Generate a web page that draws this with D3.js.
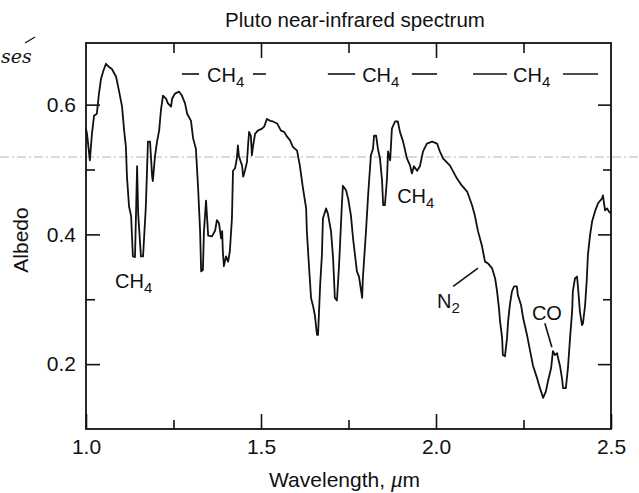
<!DOCTYPE html>
<html>
<head>
<meta charset="utf-8">
<script src="https://cdn.jsdelivr.net/npm/d3@7"></script>
<style>
  body { margin: 0; background: #fff; }
  text { font-family: 'Liberation Sans', Arial, Helvetica, sans-serif; fill: #111; }
  .tick line { stroke: #111; stroke-width: 1.6; }
  .tick text { font-size: 21px; }
</style>
</head>
<body>
<div id="chart"></div>
<script>
// Spectrum (wavelength in micrometres, albedo)
const wavelength = [
  1.000, 1.003, 1.011, 1.017, 1.023, 1.031, 1.037, 1.043, 1.049, 1.057,
  1.066, 1.074, 1.086, 1.094, 1.103, 1.109, 1.114, 1.117, 1.123, 1.129,
  1.131, 1.134, 1.140, 1.146, 1.149, 1.157, 1.163, 1.171, 1.177, 1.183,
  1.189, 1.191, 1.197, 1.203, 1.209, 1.214, 1.220, 1.229, 1.234, 1.243,
  1.246, 1.254, 1.266, 1.274, 1.283, 1.289, 1.300, 1.306, 1.314, 1.320,
  1.326, 1.329, 1.334, 1.337, 1.343, 1.346, 1.349, 1.360, 1.369, 1.374,
  1.380, 1.386, 1.389, 1.391, 1.394, 1.400, 1.406, 1.411, 1.417, 1.420,
  1.426, 1.431, 1.434, 1.437, 1.446, 1.449, 1.454, 1.460, 1.463, 1.466,
  1.471, 1.474, 1.477, 1.483, 1.491, 1.503, 1.509, 1.517, 1.526, 1.534,
  1.546, 1.557, 1.566, 1.574, 1.583, 1.591, 1.603, 1.611, 1.620, 1.629,
  1.631, 1.637, 1.643, 1.649, 1.654, 1.660, 1.663, 1.669, 1.674, 1.677,
  1.686, 1.691, 1.700, 1.706, 1.711, 1.717, 1.723, 1.731, 1.734, 1.743,
  1.749, 1.757, 1.763, 1.774, 1.780, 1.789, 1.791, 1.800, 1.806, 1.814,
  1.820, 1.823, 1.829, 1.834, 1.840, 1.846, 1.849, 1.854, 1.860, 1.863,
  1.869, 1.874, 1.883, 1.891, 1.897, 1.906, 1.917, 1.926, 1.931, 1.937,
  1.946, 1.954, 1.963, 1.974, 1.989, 2.003, 2.011, 2.020, 2.040, 2.060,
  2.074, 2.089, 2.103, 2.111, 2.120, 2.131, 2.140, 2.149, 2.160, 2.169,
  2.174, 2.180, 2.183, 2.189, 2.191, 2.197, 2.203, 2.206, 2.211, 2.217,
  2.223, 2.231, 2.234, 2.243, 2.249, 2.260, 2.269, 2.277, 2.289, 2.297,
  2.306, 2.314, 2.320, 2.329, 2.334, 2.340, 2.346, 2.349, 2.354, 2.360,
  2.363, 2.371, 2.377, 2.383, 2.389, 2.391, 2.397, 2.403, 2.406, 2.411,
  2.417, 2.420, 2.426, 2.431, 2.434, 2.440, 2.446, 2.454, 2.463, 2.474,
  2.477, 2.483, 2.489, 2.494, 2.500
];

const albedo = [
  0.563, 0.555, 0.514, 0.555, 0.583, 0.586, 0.617, 0.640, 0.651, 0.663,
  0.658, 0.655, 0.643, 0.622, 0.597, 0.560, 0.535, 0.489, 0.443, 0.428,
  0.402, 0.366, 0.365, 0.505, 0.432, 0.366, 0.366, 0.443, 0.543, 0.543,
  0.489, 0.482, 0.520, 0.543, 0.560, 0.591, 0.614, 0.609, 0.602, 0.597,
  0.609, 0.617, 0.620, 0.614, 0.602, 0.586, 0.575, 0.548, 0.532, 0.475,
  0.405, 0.343, 0.345, 0.405, 0.452, 0.425, 0.398, 0.397, 0.406, 0.422,
  0.417, 0.394, 0.405, 0.374, 0.351, 0.366, 0.358, 0.374, 0.425, 0.498,
  0.502, 0.517, 0.537, 0.520, 0.506, 0.489, 0.498, 0.512, 0.537, 0.558,
  0.552, 0.522, 0.535, 0.555, 0.560, 0.563, 0.566, 0.578, 0.575, 0.574,
  0.571, 0.560, 0.558, 0.551, 0.545, 0.535, 0.529, 0.506, 0.471, 0.440,
  0.405, 0.352, 0.302, 0.289, 0.275, 0.245, 0.245, 0.322, 0.368, 0.425,
  0.440, 0.432, 0.405, 0.363, 0.302, 0.298, 0.352, 0.445, 0.475, 0.468,
  0.455, 0.429, 0.394, 0.343, 0.335, 0.302, 0.332, 0.405, 0.460, 0.522,
  0.532, 0.552, 0.552, 0.532, 0.517, 0.482, 0.445, 0.445, 0.486, 0.528,
  0.514, 0.563, 0.574, 0.574, 0.558, 0.543, 0.517, 0.506, 0.494, 0.505,
  0.498, 0.505, 0.528, 0.540, 0.543, 0.540, 0.528, 0.517, 0.506, 0.486,
  0.475, 0.466, 0.445, 0.429, 0.405, 0.383, 0.358, 0.355, 0.348, 0.332,
  0.314, 0.286, 0.266, 0.240, 0.214, 0.212, 0.240, 0.266, 0.291, 0.312,
  0.320, 0.320, 0.306, 0.291, 0.271, 0.245, 0.220, 0.198, 0.178, 0.163,
  0.148, 0.158, 0.174, 0.194, 0.220, 0.214, 0.217, 0.209, 0.198, 0.178,
  0.163, 0.163, 0.194, 0.240, 0.282, 0.312, 0.332, 0.335, 0.317, 0.282,
  0.260, 0.263, 0.291, 0.332, 0.368, 0.398, 0.420, 0.435, 0.448, 0.455,
  0.460, 0.437, 0.440, 0.435, 0.432
];

// Tick values
const xMajorTicks = [1.0, 1.5, 2.0, 2.5];
const xMinorTicks = [1.25, 1.75, 2.25];
const yMajorTicks = [0.2, 0.4, 0.6];
const yMinorTicks = [0.3, 0.5];

// Band labels along the top: [start of left dash, end of left dash, text start, start of right dash, end of right dash]
const topBands = [
  [1.274, 1.323, 1.346, 1.477, 1.514],
  [1.691, 1.769, 1.789, 1.931, 2.003],
  [2.106, 2.203, 2.220, 2.363, 2.463]
];

// Labels inside the plot: [name, subscript, wavelength, albedo of baseline]
const bandLabels = [
  ['CH', '4', 1.083, 0.317],
  ['CH', '4', 1.889, 0.448],
  ['N', '2', 2.003, 0.2865],
  ['CO', '', 2.274, 0.268]
];

// Leader lines: [x1, y1, x2, y2] in data units
const leaders = [
  [2.049, 0.320, 2.120, 0.348],
  [2.311, 0.263, 2.331, 0.226]
];

const W = 639;
const H = 493;
const FRAME = { LEFT: 86, RIGHT: 611, TOP: 43, BOTTOM: 429 };

const svg = d3
  .select('#chart')
  .append('svg')
  .attr('width', W)
  .attr('height', H);

svg.append('rect').attr('width', W).attr('height', H).attr('fill', '#fff');

// Faint fold line of the scanned page
svg
  .append('line')
  .attr('x1', 0)
  .attr('x2', W)
  .attr('y1', 157)
  .attr('y2', 157)
  .attr('stroke', '#b5b5b5')
  .attr('stroke-width', 1)
  .attr('stroke-dasharray', '9 3 2 3');

// Handwritten note on the margin
svg
  .append('text')
  .attr('x', 1)
  .attr('y', 63)
  .style('font-family', "'DejaVu Serif', serif")
  .style('font-style', 'italic')
  .style('font-size', '19px')
  .text('ses');
svg
  .append('line')
  .attr('x1', 25).attr('y1', 43)
  .attr('x2', 35).attr('y2', 37)
  .attr('stroke', '#111')
  .attr('stroke-width', 1.2);

const x = d3
  .scaleLinear()
  .domain([1.0, 2.5])
  .range([FRAME.LEFT, FRAME.RIGHT]);

const y = d3
  .scaleLinear()
  .domain([0.1, 0.695])
  .range([FRAME.BOTTOM, FRAME.TOP]);

// Axes with ticks pointing into the frame
function addAxis(axis, tx, ty) {
  const g = svg
    .append('g')
    .attr('transform', `translate(${tx}, ${ty})`)
    .call(axis);
  g.select('.domain').remove();
  return g;
}

addAxis(
  d3.axisBottom(x).tickValues(xMajorTicks).tickSize(-15).tickPadding(10).tickFormat(d3.format('.1f')),
  0, FRAME.BOTTOM
);
addAxis(d3.axisBottom(x).tickValues(xMinorTicks).tickSize(-9).tickFormat(''), 0, FRAME.BOTTOM);
addAxis(d3.axisTop(x).tickValues([1.5, 2.0]).tickSize(-15).tickFormat(''), 0, FRAME.TOP);
addAxis(d3.axisTop(x).tickValues(xMinorTicks).tickSize(-10).tickFormat(''), 0, FRAME.TOP);

addAxis(
  d3.axisLeft(y).tickValues(yMajorTicks).tickSize(-14).tickPadding(10).tickFormat(d3.format('.1f')),
  FRAME.LEFT, 0
);
addAxis(d3.axisLeft(y).tickValues(yMinorTicks).tickSize(-9).tickFormat(''), FRAME.LEFT, 0);
addAxis(d3.axisRight(y).tickValues(yMajorTicks).tickSize(-13).tickFormat(''), FRAME.RIGHT, 0);
addAxis(d3.axisRight(y).tickValues(yMinorTicks).tickSize(-8).tickFormat(''), FRAME.RIGHT, 0);

// Frame
svg
  .append('rect')
  .attr('x', FRAME.LEFT)
  .attr('y', FRAME.TOP)
  .attr('width', FRAME.RIGHT - FRAME.LEFT)
  .attr('height', FRAME.BOTTOM - FRAME.TOP)
  .attr('fill', 'none')
  .attr('stroke', '#111')
  .attr('stroke-width', 1.8);

// Spectrum
const points = d3.zip(wavelength, albedo);
svg
  .append('path')
  .datum(points)
  .attr('fill', 'none')
  .attr('stroke', '#111')
  .attr('stroke-width', 1.8)
  .attr('stroke-linejoin', 'round')
  .attr(
    'd',
    d3
      .line()
      .x(d => x(d[0]))
      .y(d => y(d[1]))
  );

// Title and axis labels
svg
  .append('text')
  .attr('x', 355)
  .attr('y', 27)
  .attr('text-anchor', 'middle')
  .style('font-size', '20.5px')
  .text('Pluto near-infrared spectrum');

const xLabel = svg
  .append('text')
  .attr('x', (FRAME.LEFT + FRAME.RIGHT) / 2 - 4)
  .attr('y', 487)
  .attr('text-anchor', 'middle')
  .style('font-size', '21px');
xLabel.append('tspan').text('Wavelength, ');
xLabel
  .append('tspan')
  .style('font-family', "'Liberation Serif', 'Times New Roman', serif")
  .style('font-style', 'italic')
  .style('font-size', '23px')
  .text('\u03bc');
xLabel.append('tspan').text('m');

svg
  .append('text')
  .attr('transform', `translate(28, 240) rotate(-90)`)
  .attr('text-anchor', 'middle')
  .style('font-size', '21px')
  .text('Albedo');

// Chemical label with a subscript
function chem(parent, px, py, name, sub) {
  const t = parent
    .append('text')
    .attr('x', px)
    .attr('y', py)
    .style('font-size', '20px');
  t.append('tspan').text(name);
  if (sub) {
    t.append('tspan').attr('dy', 5).style('font-size', '15px').text(sub);
  }
  return t;
}

// Top band markers
const yDash = y.invert(74);
const yTopText = y.invert(82);
topBands.forEach(function(b) {
  [[b[0], b[1]], [b[3], b[4]]].forEach(function(seg) {
    svg
      .append('line')
      .attr('x1', x(seg[0]))
      .attr('x2', x(seg[1]))
      .attr('y1', y(yDash))
      .attr('y2', y(yDash))
      .attr('stroke', '#111')
      .attr('stroke-width', 1.6);
  });
  chem(svg, x(b[2]), y(yTopText), 'CH', '4');
});

bandLabels.forEach(function(l) {
  chem(svg, x(l[2]), y(l[3]), l[0], l[1]);
});

leaders.forEach(function(l) {
  svg
    .append('line')
    .attr('x1', x(l[0]))
    .attr('y1', y(l[1]))
    .attr('x2', x(l[2]))
    .attr('y2', y(l[3]))
    .attr('stroke', '#111')
    .attr('stroke-width', 1.6);
});
</script>
</body>
</html>
